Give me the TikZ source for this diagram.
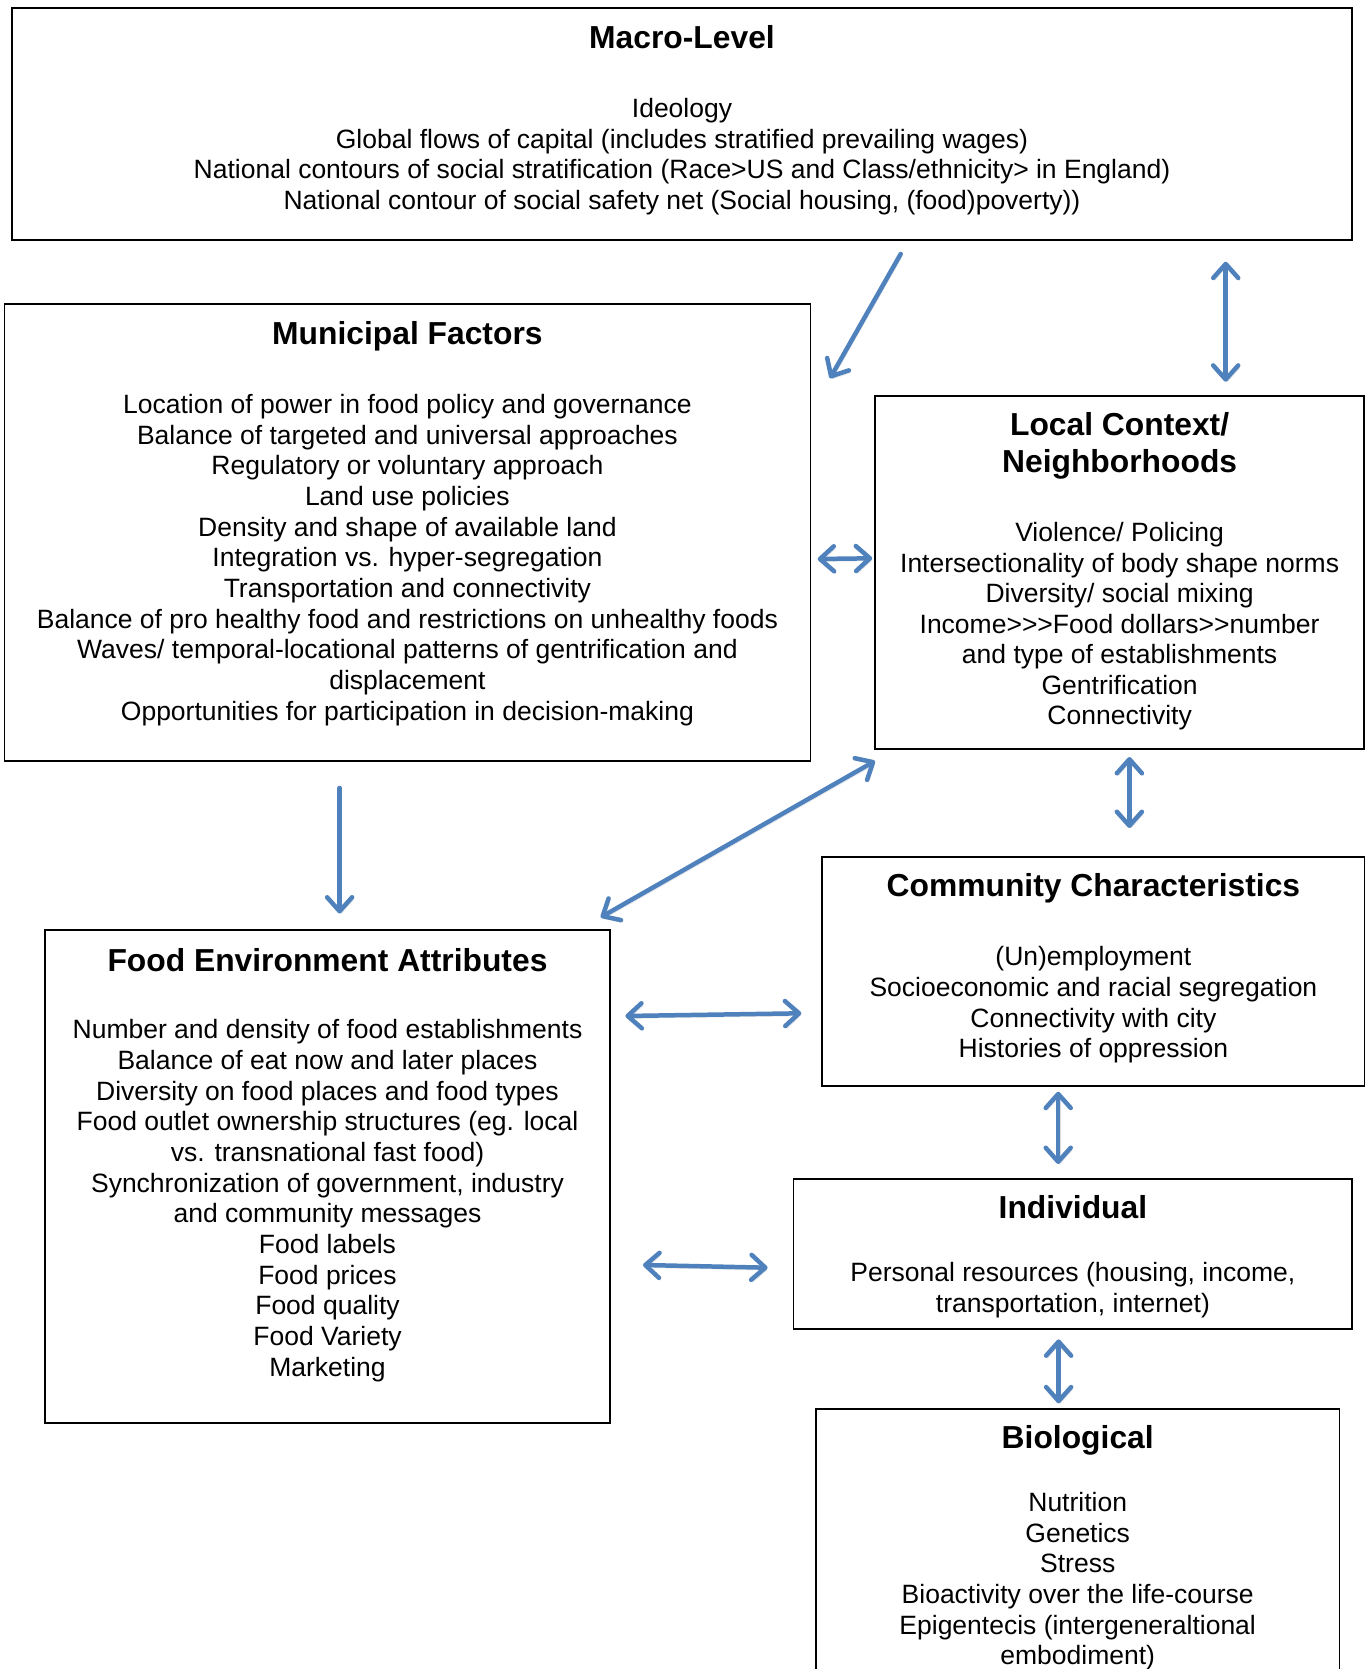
\documentclass[tikz,border=0pt]{standalone}
\usepackage{fontspec}
\setmainfont{Liberation Sans}[Ligatures=TeXOff]
\usetikzlibrary{arrows.meta}
\definecolor{arrblue}{HTML}{4F81BD}
\begin{document}
\begin{tikzpicture}[x=1pt,y=-1pt,
  box/.style={draw=black, line width=1.8pt, inner sep=0pt, outer sep=0pt, anchor=north west},
  ttl/.style={font=\fontsize{31.8}{36.7}\selectfont\bfseries, anchor=north, inner sep=0pt, align=center},
  body/.style={font=\fontsize{26.5}{30.7}\selectfont, anchor=north, inner sep=0pt, align=center},
  tipb/.tip={Straight Barb[length=14pt,width=25pt,line cap=round,line join=round]},
  conn/.style={draw=arrblue, line width=4.5pt, line cap=round,
     preaction={draw=black!45, opacity=0.3, transform canvas={shift={(1.5pt,-2.5pt)}}}},
  one/.style={conn, -tipb},
  two/.style={conn, tipb-tipb},
]
\useasboundingbox (0,0) rectangle (1366,1669);
\fill[white] (0,0) rectangle (1366,1669);

% Boxes
\node[box, minimum width=1339.8pt, minimum height=231.7pt] (mac) at (12.2,8.3) {};
\node[box, minimum width=806pt, minimum height=456.7pt] (mun) at (4.4,304) {};
\node[box, minimum width=489.2pt, minimum height=353.3pt] (loc) at (875,396) {};
\node[box, minimum width=542.2pt, minimum height=228.7pt] (com) at (822.3,857.3) {};
\node[box, minimum width=564.5pt, minimum height=492.7pt] (fea) at (45.3,930) {};
\node[box, minimum width=558.8pt, minimum height=150pt] (ind) at (793.5,1179) {};
\node[box, minimum width=523.4pt, minimum height=300pt] (bio) at (816,1409) {};

% Macro
\node[ttl] (macT) at (682,25.7) {Macro-Level};
\node[body] (macB) at (682,98) {Ideology\\
Global flows of capital (includes stratified prevailing wages)\\
National contours of social stratification (Race>US and Class/ethnicity> in England)\\
National contour of social safety net (Social housing, (food)poverty))};

% Municipal
\node[ttl] (munT) at (407.4,321) {Municipal Factors};
\node[body] (munB) at (407.4,393.9) {Location of power in food policy and governance\\
Balance of targeted and universal approaches\\
Regulatory or voluntary approach\\
Land use policies\\
Density and shape of available land\\
Integration vs. hyper-segregation\\
Transportation and connectivity\\
Balance of pro healthy food and restrictions on unhealthy foods\\
Waves/ temporal-locational patterns of gentrification and\\
displacement\\
Opportunities for participation in decision-making};

% Local context
\node[ttl] (locT) at (1119.6,412.2) {Local Context/\\Neighborhoods};
\node[body, font=\fontsize{26.5}{30.5}\selectfont] (locB) at (1119.6,522.5) {Violence/ Policing\\
Intersectionality of body shape norms\\
Diversity/ social mixing\\
Income>>>Food dollars>>number\\
and type of establishments\\
Gentrification\\
Connectivity};

% Community
\node[ttl] (comT) at (1093.4,873) {Community Characteristics};
\node[body] (comB) at (1093.4,946.2) {(Un)employment\\
Socioeconomic and racial segregation\\
Connectivity with city\\
Histories of oppression};

% Food environment
\node[ttl] (feaT) at (327.5,948) {Food Environment Attributes};
\node[body, font=\fontsize{26.5}{30.7}\selectfont] (feaB) at (327.5,1019.2) {Number and density of food establishments\\
Balance of eat now and later places\\
Diversity on food places and food types\\
Food outlet ownership structures (eg. local\\
vs. transnational fast food)\\
Synchronization of government, industry\\
and community messages\\
Food labels\\
Food prices\\
Food quality\\
Food Variety\\
Marketing};

% Individual
\node[ttl] (indT) at (1072.9,1195.5) {Individual};
\node[body] (indB) at (1072.9,1262) {Personal resources (housing, income,\\
transportation, internet)};

% Biological
\node[ttl] (bioT) at (1077.7,1425.5) {Biological};
\node[body, font=\fontsize{26.5}{30.6}\selectfont] (bioB) at (1077.7,1492.2) {Nutrition\\
Genetics\\
Stress\\
Bioactivity over the life-course\\
Epigentecis (intergeneraltional\\
embodiment)};

% Connector end points
\coordinate (a1s) at (900.7,254);   \coordinate (a1e) at (830,378.3);
\coordinate (a2s) at (1225.7,261.7); \coordinate (a2e) at (1225.7,381.7);
\coordinate (a3s) at (817.7,559);   \coordinate (a3e) at (872.2,558.3);
\coordinate (a4s) at (339.6,788);   \coordinate (a4e) at (339.6,913.5);
\coordinate (a5s) at (875,761);     \coordinate (a5e) at (600.7,917.3);
\coordinate (a6s) at (1129.4,757);  \coordinate (a6e) at (1129.4,828);
\coordinate (a7s) at (625.4,1016);  \coordinate (a7e) at (801.3,1013.3);
\coordinate (a8s) at (1058.2,1091.7); \coordinate (a8e) at (1058.2,1164);
\coordinate (a9s) at (643,1265);    \coordinate (a9e) at (767.6,1267.7);
\coordinate (a10s) at (1058.6,1339.4); \coordinate (a10e) at (1058.6,1403.3);

\draw[one] (a1s) -- (a1e);
\draw[two] (a2s) -- (a2e);
\draw[two] (a3s) -- (a3e);
\draw[one] (a4s) -- (a4e);
\draw[two] (a5s) -- (a5e);
\draw[two] (a6s) -- (a6e);
\draw[two] (a7s) -- (a7e);
\draw[two] (a8s) -- (a8e);
\draw[two] (a9s) -- (a9e);
\draw[two] (a10s) -- (a10e);
\end{tikzpicture}
\end{document}
